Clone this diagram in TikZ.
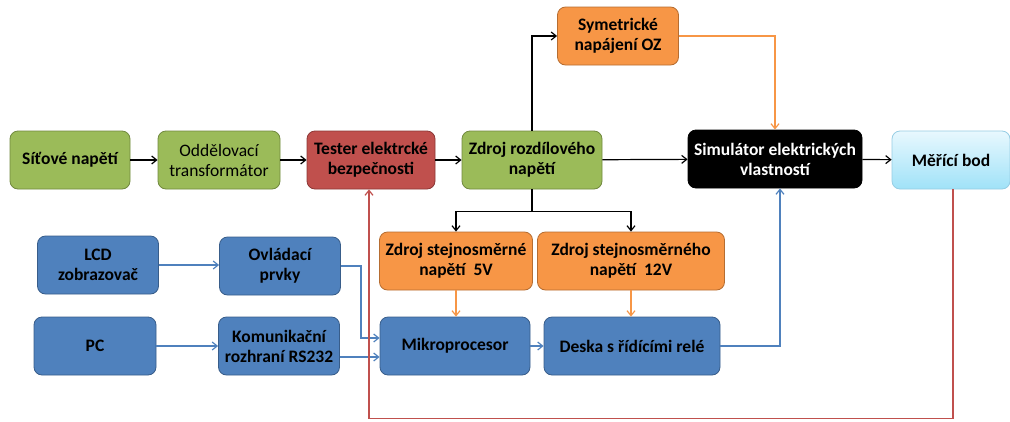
\documentclass[tikz,border=0pt]{standalone}
\usepackage{fontspec}
\setmainfont{Carlito}
\usepackage{xcolor}
\usetikzlibrary{positioning, arrows.meta}

\definecolor{ogreen}{RGB}{155,187,89}
\definecolor{ogreendk}{RGB}{113,137,63}
\definecolor{ored}{RGB}{192,80,77}
\definecolor{oreddk}{RGB}{140,56,54}
\definecolor{oorange}{RGB}{247,150,70}
\definecolor{oorangedk}{RGB}{182,109,49}
\definecolor{oblue}{RGB}{79,129,189}
\definecolor{obluedk}{RGB}{56,93,138}
\definecolor{ocyantop}{RGB}{232,248,254}
\definecolor{ocyanbot}{RGB}{160,226,248}
\definecolor{ocyandk}{RGB}{150,205,228}

\begin{document}
\begin{tikzpicture}[x=1pt, y=-1pt,
    font={\fontsize{17.5}{20}\selectfont\bfseries},
    >={Straight Barb[length=5pt,width=8pt]},
    box/.style={draw, rounded corners=8pt, align=center, inner sep=0pt, minimum height=58pt, line width=0.8pt},
    greenbox/.style={box, fill=ogreen, draw=ogreendk},
    redbox/.style={box, fill=ored, draw=oreddk},
    orangebox/.style={box, fill=oorange, draw=oorangedk},
    bluebox/.style={box, fill=oblue, draw=obluedk},
    blackbox/.style={box, fill=black, draw=black, text=white},
    cyanbox/.style={box, top color=ocyantop, bottom color=ocyanbot, draw=ocyandk},
    kline/.style={->, line width=1.2pt, black},
    oline/.style={->, line width=1.2pt, oorange},
    bline/.style={->, line width=1.2pt, oblue},
    rline/.style={->, line width=1.2pt, ored}]
        \useasboundingbox (0,0) rectangle (1010,421);

        \node[greenbox, minimum width=120pt] (sit) at (70,160) {Síťové napětí};
        \node[greenbox, minimum width=122pt, font={\fontsize{17.5}{20}\selectfont\mdseries}] (odd) at (219,160) {Oddělovací\\transformátor};
        \node[redbox, minimum width=128pt] (tes) at (371,160) {Tester elektrcké\\bezpečnosti};
        \node[greenbox, minimum width=140pt] (zdr) at (532,160) {Zdroj rozdílového\\napětí};
        \node[orangebox, minimum width=121pt] (sym) at (618,36) {Symetrické\\napájení OZ};
        \node[blackbox, minimum width=174pt] (sim) at (775,159) {Simulátor elektrických\\vlastností};
        \node[cyanbox, minimum width=118pt] (mer) at (951,160) {Měřící bod};

        \node[bluebox, minimum width=121pt] (lcd) at (98,265) {LCD\\zobrazovač};
        \node[bluebox, minimum width=121pt] (ovl) at (280,266) {Ovládací\\prvky};
        \node[bluebox, minimum width=122pt] (pc) at (95,346) {PC};
        \node[bluebox, minimum width=121pt] (kom) at (279,346) {Komunikační\\rozhraní RS232};
        \node[orangebox, minimum width=153pt] (z5) at (456,261) {Zdroj stejnosměrné\\napětí\ \ 5V};
        \node[orangebox, minimum width=187pt] (z12) at (631,261) {Zdroj stejnosměrného\\napětí\ \ 12V};
        \node[bluebox, minimum width=150pt] (mik) at (455,346) {Mikroprocesor};
        \node[bluebox, minimum width=176pt] (des) at (632,346) {Deska s řídícími relé};

        \draw[kline] (sit) to (odd);
        \draw[kline] (odd) to (tes);
        \draw[kline] (tes) to (zdr);
        \draw[kline] (zdr) to (sim);
        \draw[kline] (sim) to (mer);
        \draw[kline] (zdr.north) |- (sym.west);
        \draw[line width=1.2pt] (zdr.south) -- ++(0,22) coordinate (split);
        \draw[kline] (split) -| (z5.north);
        \draw[kline] (split) -| (z12.north);

        \draw[oline] (sym.east) -| (sim.north);
        \draw[oline] (z5.south) -- (z5.south |- mik.north);
        \draw[oline] (z12.south) -- (z12.south |- des.north);

        \draw[bline] (lcd.east) -- (lcd.east -| ovl.west);
        \draw[bline] (pc) to (kom);
        \draw[bline] (ovl.east) -- ++(20,0) |- ([yshift=8pt]mik.west);
        \draw[bline] ([yshift=-11pt]kom.east) -- ([yshift=-11pt]kom.east -| mik.west);
        \draw[bline] (mik) to (des);
        \draw[bline] (des.east) -| ([xshift=5pt]sim.south);

        \draw[rline] ([xshift=2pt]mer.south) -- ++(0,229) -| ([xshift=-2pt]tes.south);
\end{tikzpicture}
\end{document}
